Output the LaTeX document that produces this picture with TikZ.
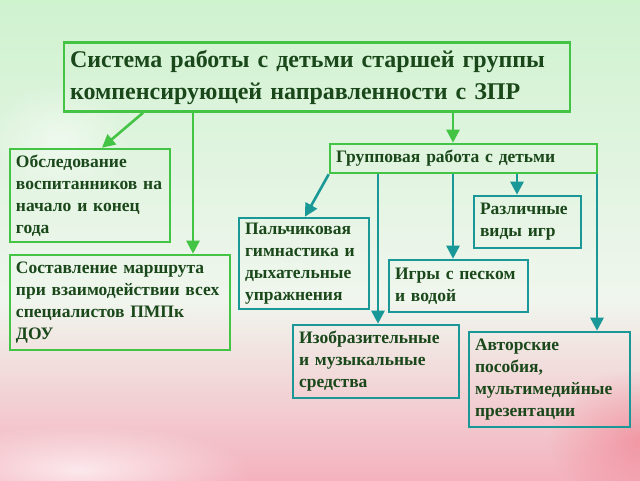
\documentclass[tikz,border=0pt]{standalone}
\usepackage{fontspec}
\setmainfont{Liberation Serif}
\usetikzlibrary{arrows.meta,calc,fadings}
\definecolor{bgtop}{HTML}{CFF2CF}
\definecolor{bgmid}{HTML}{F0F6EE}
\definecolor{bgbot}{HTML}{F4B2BE}
\definecolor{gline}{HTML}{44C444}
\definecolor{tline}{HTML}{1A9898}
\definecolor{txt}{HTML}{1A481A}
\definecolor{pinkspot}{HTML}{F07080}
\tikzfading[name=softglow, inner color=transparent!0, outer color=transparent!100]
\tikzset{
  box/.style={draw=gline, line width=2.6pt, rectangle, align=left, inner xsep=6pt, inner ysep=2pt,
    text=txt, font=\bfseries\fontsize{17.5}{22}\selectfont},
  tbox/.style={box, draw=tline},
  garr/.style={draw=gline, line width=2.6pt, -{Triangle[length=13pt,width=13pt]}},
  tarr/.style={draw=tline, line width=2.6pt, -{Triangle[length=13pt,width=13pt]}},
}
\newcommand{\bx}[7]{% style,name,cx,cy,w,h,text
  \node[#1, minimum width=#5pt, minimum height=#6pt, text width=#5pt-12pt] (#2) at (#3,#4) {#7};}
\begin{document}
\begin{tikzpicture}[x=1pt,y=-1pt]
\useasboundingbox (0,0) rectangle (640,480);
\shade[top color=bgtop, bottom color=bgmid] (0,0) rectangle (640,300);
\shade[top color=bgmid, bottom color=bgbot] (0,299.5) rectangle (640,480);
\begin{scope}
\clip (0,0) rectangle (640,480);
\fill[white, opacity=0.7, path fading=softglow] (80,470) ellipse (170 and 45);
\fill[white, opacity=0.5, path fading=softglow] (60,140) ellipse (70 and 60);
\fill[pinkspot, opacity=0.5, path fading=softglow] (640,440) ellipse (90 and 70);
\end{scope}

\node[box, minimum width=506pt, minimum height=69pt, text width=494pt,
  font=\bfseries\fontsize{24}{32}\selectfont] (main) at (317,77)
  {Система работы с детьми старшей группы\\компенсирующей направленности с ЗПР};
\bx{box}{obs}{90}{195.5}{160}{93}{Обследование\\воспитанников на\\начало и конец\\года}
\bx{box}{sost}{120}{302.5}{220}{95}{Составление маршрута\\при взаимодействии всех\\специалистов ПМПк\\ДОУ}
\bx{box}{grp}{463.5}{158.5}{267}{29}{Групповая работа с детьми}
\bx{tbox}{palch}{304}{263.5}{130}{91}{Пальчиковая\\гимнастика и\\дыхательные\\упражнения}
\bx{tbox}{razl}{527.5}{222}{107}{52}{Различные\\виды игр}
\bx{tbox}{igry}{458.5}{286}{139}{52}{Игры с песком\\и водой}
\bx{tbox}{izo}{376}{361.5}{166}{73}{Изобразительные\\и музыкальные\\средства}
\bx{tbox}{avt}{549.5}{379.5}{161}{95}{Авторские\\пособия,\\мультимедийные\\презентации}

\draw[garr] (143,0 |- main.south) -- (102,0 |- obs.north);
\draw[garr] (193,0 |- main.south) -- (193,0 |- sost.north);
\draw[garr] (453,0 |- main.south) -- (453,0 |- grp.north);

\draw[tarr] (grp.south west) -- (305,0 |- palch.north);
\draw[tarr] (378,0 |- grp.south) -- (378,0 |- izo.north);
\draw[tarr] (453,0 |- grp.south) -- (453,0 |- igry.north);
\draw[tarr] (517,0 |- grp.south) -- (517,0 |- razl.north);
\draw[tarr] (597,0 |- grp.south) -- (597,0 |- avt.north);
\end{tikzpicture}
\end{document}
